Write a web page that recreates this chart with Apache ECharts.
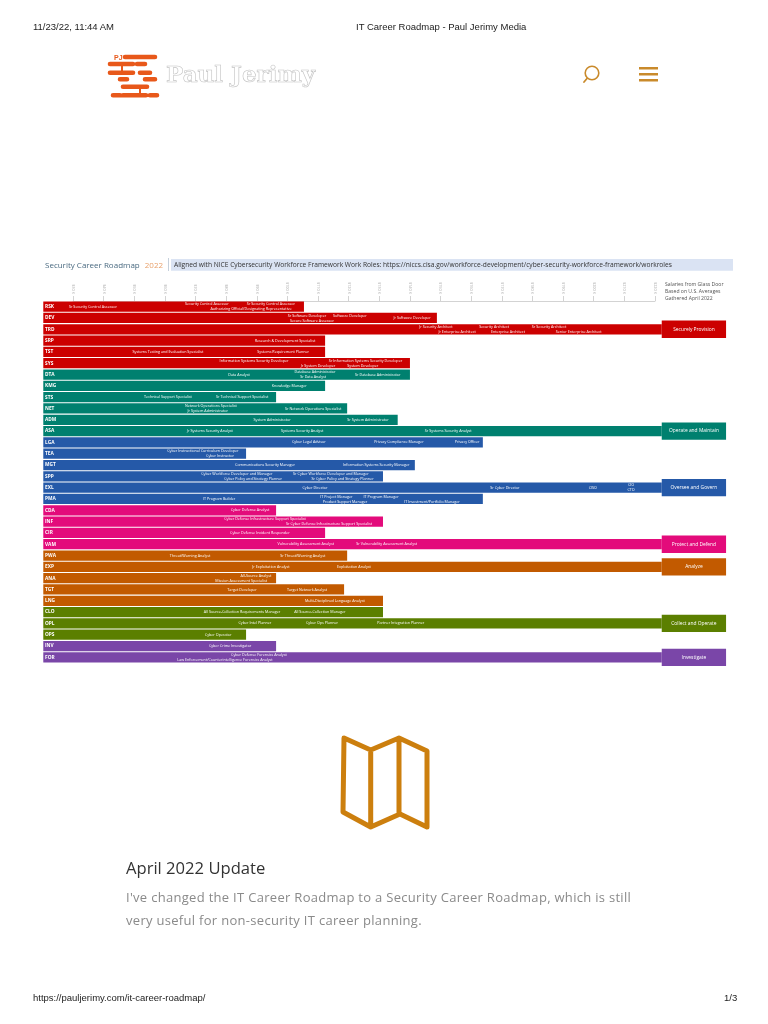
<!DOCTYPE html>
<html>
<head>
<meta charset="utf-8">
<title>IT Career Roadmap - Paul Jerimy Media</title>
<style>
    html, body { margin: 0; padding: 0; background: #fff; }
    #page { position: relative; width: 768px; height: 1024px; overflow: hidden; }
    #echart { position: absolute; left: 0; top: 0; width: 768px; height: 1024px; }
    .txt { position: absolute; white-space: nowrap; line-height: 1; }
    .print { font: 9.5px "Liberation Sans", sans-serif; color: #222; }
    #logo-name { left: 166px; top: 60px; font: bold 23px "DejaVu Serif", serif; color: #fff; -webkit-text-stroke: 0.6px #c4c4c4; letter-spacing: 0; }
    #update-head { left: 126px; top: 856px; font: 16.6px "Open Sans", sans-serif; color: #333; }
    .update-body { left: 126px; font: 13px "Open Sans", sans-serif; color: #8a8a8a; letter-spacing: 0.3px; }
    svg { position: absolute; left: 0; top: 0; }
</style>
</head>
<body>
<div id="page">
    <div id="echart"></div>
    <svg width="768" height="1024" fill="none" stroke-linecap="round" stroke-linejoin="round">
        <!-- logo -->
        <g stroke="#e8581a" stroke-width="4.6">
            <path d="M125 57H155M110 64H133M137 64H145M110 72.7H133M140 72.7H150M120 79.3H127M145 79.3H155M123 86.7H147M113 95.3H120M123 95.3H146M150 95.3H157"/>
            <path stroke-width="2" d="M122 64V72M140 87V95"/>
        </g>
        <text x="114" y="59.5" font-family="Liberation Sans" font-weight="bold" font-size="7" fill="#e8581a">PJ</text>
        <!-- search + menu -->
        <g stroke="#c98a2b">
            <circle cx="592" cy="73" r="6.8" stroke-width="1.6"/>
            <path stroke-width="1.8" d="M587 78.5L584 82"/>
            <path stroke-width="2.6" stroke-linecap="butt" d="M639 68.3H658M639 74.2H658M639 80.3H658"/>
        </g>
        <!-- map icon -->
        <path stroke="#cc7f0e" stroke-width="5" d="M344 738L370.7 750L399 738L427 751V827L400 814L370.7 827L343 812ZM370.7 750V827M399 738V814"/>
    </svg>
    <div class="txt print" style="left:33px;top:21px">11/23/22, 11:44 AM</div>
    <div class="txt print" style="left:356px;top:21px">IT Career Roadmap - Paul Jerimy Media</div>
    <div class="txt print" style="left:33px;top:992px">https://pauljerimy.com/it-career-roadmap/</div>
    <div class="txt print" style="left:724px;top:992px">1/3</div>
    <div class="txt" id="logo-name">Paul Jerimy</div>
    <div class="txt" id="update-head">April 2022 Update</div>
    <div class="txt update-body" style="top:888px">I've changed the IT Career Roadmap to a Security Career Roadmap, which is still</div>
    <div class="txt update-body" style="top:911px">very useful for non-security IT career planning.</div>
</div>
<script src="https://cdn.jsdelivr.net/npm/echarts@6/dist/echarts.min.js"></script>
<script>
    var rowCodes = ['RSK','DEV','TRD','SRP','TST','SYS','DTA','KMG','STS','NET','ADM','ASA','LGA','TEA','MGT','SPP',
        'EXL','PMA','CDA','INF','CIR','VAM','PWA','EXP','ANA','TGT','LNG','CLO','OPL','OPS','INV','FOR'];
    // salary ($K) where each row's band stops
    var rowEnds = [105.4,148.8,222.2,112.3,112.3,140,140,112.3,96.3,119.5,136,222.2,163.8,86.5,141.6,131.2,
        222.2,163.8,96.3,131.2,112.3,222.2,119.5,222.2,96.3,118.5,131.2,131.2,222.2,86.5,96.3,222.2];
    var rowStart = 20.3;
    var rowGroups = [0,0,0,0,0,0,1,1,1,1,1,1,2,2,2,2,2,2,3,3,3,3,4,4,4,4,4,5,5,5,6,6];

    var groupColors = ['#cc0000','#00806f','#2559a8','#e30b7b','#c25a00','#5b7f00','#7a46a8'];
    var domainNames = ['Securely Provision','Operate and Maintain','Oversee and Govern','Protect and Defend','Analyze','Collect and Operate','Investigate'];
    var domainRows = ['TRD','ASA','EXL','VAM','EXP','OPL','FOR'];
    var domainFrom = 222.2;
    var domainTo = 243.2;

    var roleSingle = [
        ['RSK',36.5,'Sr Security Control Assessor'],['DEV',140.7,'Jr Software Developer'],
        ['SRP',99.2,'Research & Development Specialist'],['TST',61,'Systems Testing and Evaluation Specialist'],
        ['TST',98.6,'Systems Requirement Planner'],['DTA',84.2,'Data Analyst'],['DTA',129.5,'Sr Database Administrator'],
        ['KMG',100.6,'Knowledge Manager'],['STS',61,'Technical Support Specialist'],['STS',85.2,'Sr Technical Support Specialist'],
        ['NET',108.4,'Sr Network Operations Specialist'],['ADM',95,'System Administrator'],['ADM',126.3,'Sr System Administrator'],
        ['ASA',74.7,'Jr Systems Security Analyst'],['ASA',104.8,'Systems Security Analyst'],['ASA',152.5,'Sr Systems Security Analyst'],
        ['LGA',107,'Cyber Legal Advisor'],['LGA',136.4,'Privacy Compliance Manager'],['LGA',158.7,'Privacy Officer'],
        ['MGT',92.7,'Communications Security Manager'],['MGT',129,'Information Systems Security Manager'],
        ['EXL',109,'Cyber Director'],['EXL',171,'Sr Cyber Director'],['EXL',199.7,'CISO'],['PMA',77.7,'IT Program Builder'],
        ['CDA',87.8,'Cyber Defense Analyst'],['CIR',91,'Cyber Defense Incident Responder'],
        ['VAM',106,'Vulnerability Assessment Analyst'],['VAM',132.4,'Sr Vulnerability Assessment Analyst'],
        ['PWA',68.2,'Threat/Warning Analyst'],['PWA',105,'Sr Threat/Warning Analyst'],
        ['EXP',94.6,'Jr Exploitation Analyst'],['EXP',121.7,'Exploitation Analyst'],
        ['TGT',85.2,'Target Developer'],['TGT',106.4,'Target Network Analyst'],['LNG',115.5,'Multi-Disciplined Language Analyst'],
        ['CLO',85.2,'All Source-Collection Requirements Manager'],['CLO',110.6,'All Source-Collection Manager'],
        ['OPL',89.4,'Cyber Intel Planner'],['OPL',111.3,'Cyber Ops Planner'],['OPL',137,'Partner Integration Planner'],
        ['OPS',77.4,'Cyber Operator'],['INV',81.3,'Cyber Crime Investigator']
    ];
    var roleUpper = [
        ['RSK',73.7,'Security Control Assessor'],['RSK',94.6,'Sr Security Control Assessor'],
        ['DEV',106.4,'Sr Software Developer'],['DEV',120.4,'Software Developer'],
        ['TRD',148.5,'Jr Security Architect'],['TRD',167.5,'Security Architect'],['TRD',185.4,'Sr Security Architect'],
        ['SYS',89.1,'Information Systems Security Developer'],['SYS',125.5,'Sr Information Systems Security Developer'],
        ['DTA',109,'Database Administrator'],['NET',75,'Network Operations Specialist'],
        ['TEA',72.4,'Cyber Instructional Curriculum Developer'],
        ['SPP',83.5,'Cyber Workforce Developer and Manager'],['SPP',114.2,'Sr Cyber Workforce Developer and Manager'],
        ['EXL',212.2,'CIO'],['PMA',116,'IT Project Manager'],['PMA',130.6,'IT Program Manager'],
        ['INF',92.7,'Cyber Defense Infrastructure Support Specialist'],['ANA',89.7,'All-Source Analyst'],
        ['FOR',90.7,'Cyber Defense Forensics Analyst']
    ];
    var roleLower = [
        ['RSK',88.1,'Authorizing Official/Designating Representative'],['DEV',108,'Secure Software Assessor'],
        ['TRD',155.4,'Jr Enterprise Architect'],['TRD',172,'Enterprise Architect'],['TRD',195.1,'Senior Enterprise Architect'],
        ['SYS',110,'Jr System Developer'],['SYS',124.6,'System Developer'],['DTA',108.4,'Sr Data Analyst'],
        ['NET',74,'Jr System Administrator'],['TEA',78,'Cyber Instructor'],
        ['SPP',88.8,'Cyber Policy and Strategy Planner'],['SPP',118,'Sr Cyber Policy and Strategy Planner'],
        ['EXL',212.2,'CTO'],['PMA',118.8,'Product Support Manager'],['PMA',147.2,'IT Investment/Portfolio Manager'],
        ['INF',113.6,'Sr Cyber Defense Infrastructure Support Specialist'],['ANA',84.9,'Mission Assessment Specialist'],
        ['FOR',79.6,'Law Enforcement/Counterintelligence Forensics Analyst']
    ];

    var headerTitle = 'Security Career Roadmap';
    var headerYear = '2022';
    var headerNote = 'Aligned with NICE Cybersecurity Workforce Framework Work Roles: https://niccs.cisa.gov/workforce-development/cyber-security-workforce-framework/workroles';
    var sourceNote = 'Salaries from Glass Door\nBased on U.S. Averages\nGathered April 2022';

    function renderBand(params, api) {
        var a = api.coord([api.value(0), api.value(2)]);
        var b = api.coord([api.value(1), api.value(2)]);
        var h = api.size([0, 1])[1] - 1.1;
        return {
            type: 'rect',
            shape: { x: a[0], y: a[1] - h / 2, width: b[0] - a[0], height: h },
            style: { fill: groupColors[rowGroups[params.dataIndex]] }
        };
    }

    function renderDomain(params, api) {
        var a = api.coord([domainFrom, api.value(0)]);
        var b = api.coord([domainTo, api.value(0)]);
        var color = groupColors[params.dataIndex];
        return {
            type: 'group',
            children: [{
                type: 'rect',
                shape: { x: a[0], y: a[1] - 8.7, width: b[0] - a[0], height: 17.4 },
                style: { fill: color }
            }, {
                type: 'text',
                style: {
                    x: (a[0] + b[0]) / 2, y: a[1], text: domainNames[params.dataIndex],
                    fill: '#fff', align: 'center', verticalAlign: 'middle', font: '4.9px "Open Sans"'
                }
            }]
        };
    }

    function roleSeries(list, lineOffset) {
        return {
            type: 'custom',
            z: 4,
            silent: true,
            data: list.map(function (r) { return [r[1], rowCodes.indexOf(r[0])]; }),
            encode: { x: 0, y: 1 },
            renderItem: function (params, api) {
                var p = api.coord([api.value(0), api.value(1)]);
                return {
                    type: 'text',
                    style: {
                        x: p[0], y: p[1] + lineOffset, text: list[params.dataIndex][2],
                        fill: '#fff', align: 'center', verticalAlign: 'middle', font: '3.7px "Open Sans"'
                    }
                };
            }
        };
    }

    var app = echarts.init(document.getElementById('echart'));
    app.setOption({
        animation: false,
        title: {
            left: 45, top: 256.5, padding: 0,
            text: '{a|' + headerTitle + '} {b|' + headerYear + '}',
            textStyle: { fontWeight: 'normal', rich: {
                a: { fontFamily: 'Open Sans', fontSize: 8, fontWeight: 'normal', color: '#4a6a80' },
                b: { fontFamily: 'Open Sans', fontSize: 8, fontWeight: 'normal', color: '#e8a06a' }
            } }
        },
        graphic: [
            { type: 'rect', shape: { x: 171, y: 259, width: 562, height: 11.7 }, style: { fill: '#dae3f3' } },
            { type: 'line', shape: { x1: 168.5, y1: 258, x2: 168.5, y2: 271 }, style: { stroke: '#c5d0dc', lineWidth: 1 } },
            { type: 'text', style: { x: 174, y: 265, text: headerNote, fill: '#333', font: '6.65px "Open Sans"', verticalAlign: 'middle' } },
            { type: 'text', style: { x: 665, y: 291.5, text: sourceNote, fill: '#555', font: '5.1px "Open Sans"', lineHeight: 7, verticalAlign: 'middle' } }
        ],
        grid: { left: 73, right: 113, top: 301, height: 362 },
        xAxis: {
            type: 'value', position: 'top', min: 30, max: 220, interval: 10,
            axisLine: { show: true, lineStyle: { color: '#c8c8c8', width: 0.8 } },
            axisTick: { show: true, length: 5, lineStyle: { color: '#c8c8c8', width: 0.8 } },
            splitLine: { show: false },
            axisLabel: {
                rotate: 90, margin: 7, fontSize: 3.8, color: '#aaa', fontFamily: 'Open Sans',
                formatter: function (v) { return '$' + v + ' K'; }
            }
        },
        yAxis: {
            type: 'category', inverse: true, data: rowCodes, offset: 29.5, z: 5,
            axisLine: { show: false }, axisTick: { show: false },
            axisLabel: { inside: true, margin: 1.5, fontSize: 4.8, color: '#fff', fontFamily: 'Open Sans', fontWeight: 'bold' }
        },
        series: [{
            type: 'custom', z: 2, silent: true,
            data: rowCodes.map(function (c, i) { return [rowStart, rowEnds[i], i]; }),
            encode: { x: [0, 1], y: 2 },
            renderItem: renderBand
        }, {
            type: 'custom', z: 3, silent: true,
            data: domainRows.map(function (c) { return [rowCodes.indexOf(c)]; }),
            encode: { y: 0 },
            renderItem: renderDomain
        },
        roleSeries(roleSingle, 0),
        roleSeries(roleUpper, -2.5),
        roleSeries(roleLower, 2.5)]
    });
</script>
</body>
</html>
